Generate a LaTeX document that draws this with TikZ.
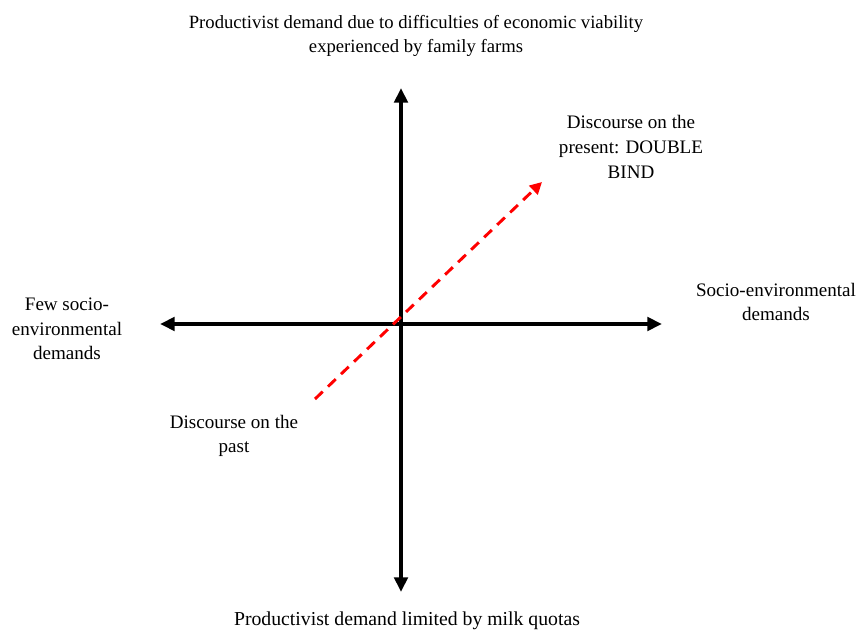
\documentclass[tikz,border=0pt]{standalone}
\usepackage{fontspec}
\setmainfont{Liberation Serif}
\usetikzlibrary{arrows.meta}
\tikzset{
  axis/.style={line width=3pt, -{Triangle[length=11pt,width=10pt]}},
  dasharrow/.style={draw=red, line width=2.2pt, dash pattern=on 8pt off 5.5pt, -{Triangle[length=9pt,width=9pt]}},
  lbl/.style={align=center, inner sep=0pt, font=\fontsize{14.3pt}{18.5pt}\selectfont}
}
\begin{document}
\begin{tikzpicture}[x=0.75pt,y=-0.75pt]
\useasboundingbox (0,0) rectangle (858,630);
\coordinate (o) at (401,324);
\coordinate (top) at (401,88);
\coordinate (bot) at (401,592);
\coordinate (lft) at (160,324);
\coordinate (rgt) at (662,324);
\coordinate (ps) at (315,399);
\coordinate (pe) at (542,182);
\draw[axis] (o) -- (top);
\draw[axis] (o) -- (bot);
\draw[axis] (o) -- (lft);
\draw[axis] (o) -- (rgt);
\draw[dasharrow] (ps) -- (pe);
\node[lbl, font=\fontsize{14pt}{18.5pt}\selectfont] (ttop) at (416,36) {Productivist demand due to difficulties of economic viability\\experienced by family farms};
\node[lbl, font=\fontsize{14.8pt}{18.5pt}\selectfont] (tbot) at (407,621) {Productivist demand limited by milk quotas};
\node[lbl] (tlft) at (67,329) {Few socio-\\environmental\\demands};
\node[lbl] (trgt) at (776,302) {Socio-environmental\\demands};
\node[lbl] (tpres) at (631,147) {Discourse on the\\present: DOUBLE\\BIND};
\node[lbl] (tpast) at (234,436) {Discourse on the\\past};
\end{tikzpicture}
\end{document}
